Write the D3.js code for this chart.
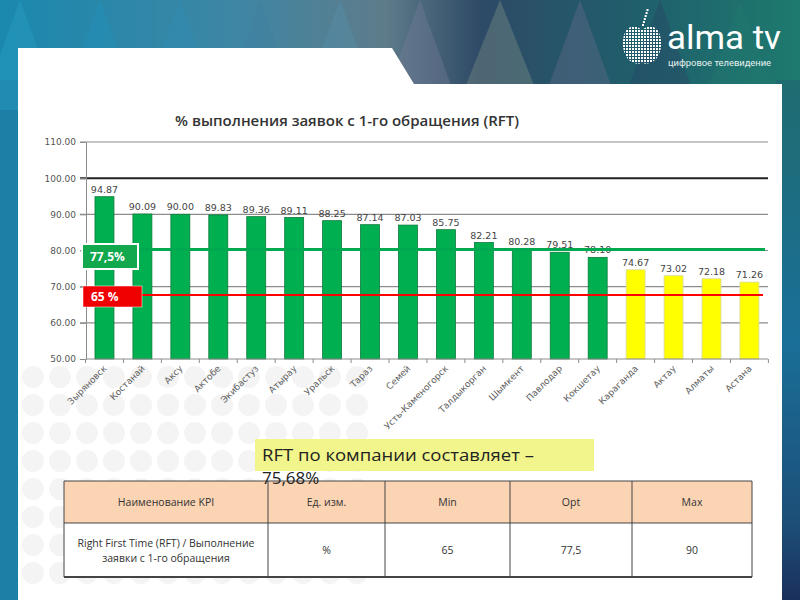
<!DOCTYPE html>
<html>
<head>
<meta charset="utf-8">
<script src="https://cdn.jsdelivr.net/npm/d3@7.9.0/dist/d3.min.js"></script>
<style>
  body { margin: 0; background: #fff; }
  svg { display: block; }
</style>
</head>
<body>
<svg id="chart" width="800" height="600"></svg>
<script>
// data
const cities = ['Зыряновск', 'Костанай', 'Аксу', 'Актобе', 'Экибастуз', 'Атырау', 'Уральск', 'Тараз',
  'Семей', 'Усть-Каменогорск', 'Талдыкорган', 'Шымкент', 'Павлодар', 'Кокшетау', 'Караганда',
  'Актау', 'Алматы', 'Астана'];
const rft = [94.87, 90.09, 90.00, 89.83, 89.36, 89.11, 88.25, 87.14, 87.03, 85.75, 82.21, 80.28,
  79.51, 78.10, 74.67, 73.02, 72.18, 71.26];
const yTicks = [50, 60, 70, 80, 90, 100, 110];
// reference lines (drawn positions) and their badges
const refValues = [80.3, 67.7];
const refLabels = ['77,5%', '65 %'];
const refColors = ['#00a84f', '#ff0000'];
const tableHead = ['Наименование KPI', 'Ед. изм.', 'Min', 'Opt', 'Max'];
const tableRow = [['Right First Time (RFT) / Выполнение', 'заявки с 1-го обращения'], ['%'], ['65'], ['77,5'], ['90']];
const companyText = ['RFT по компании составляет –', '75,68%'];

const svg = d3.select('#chart');
const defs = svg.append('defs');

// background
const bg = defs.append('linearGradient').attr('id', 'bg');
[[0, '#1a88ae'], [0.3, '#3f86a4'], [0.48, '#5e7c8a'], [0.6, '#2e4a66'], [0.8, '#1f5f6c'], [1, '#1e7a6e']]
  .forEach(([o, c]) => bg.append('stop').attr('offset', o).attr('stop-color', c));
svg.append('rect').attr('width', 800).attr('height', 600).attr('fill', 'url(#bg)');
const side = defs.append('linearGradient').attr('id', 'side').attr('x1', 0).attr('x2', 0).attr('y1', 0).attr('y2', 1);
[[0, '#1f6c70'], [0.5, '#1a6f98'], [0.85, '#1c4f78'], [1, '#1b2f5c']]
  .forEach(([o, c]) => side.append('stop').attr('offset', o).attr('stop-color', c));
svg.append('rect').attr('x', 776).attr('y', 80).attr('width', 24).attr('height', 520).attr('fill', 'url(#side)');
svg.append('rect').attr('x', 0).attr('y', 80).attr('width', 24).attr('height', 520).attr('fill', '#1d7fa6');

const tris = [[20, 110, '#2aa2c8'], [100, 110, '#1f93bd'], [180, 110, '#2f8db4'], [260, 110, '#3f7ea0'],
  [340, 110, '#5591b0'], [420, 110, '#7a7d9c'], [500, 100, '#8a9a8c'], [580, 110, '#6d6f8f'],
  [660, 110, '#2b3f62'], [740, 110, '#237a70']];
tris.forEach(([x0, h, c]) => {
  svg.append('path')
    .attr('d', `M${x0 - 40},${h} L${x0},0 L${x0 + 40},${h} Z`)
    .attr('fill', c).attr('opacity', 0.35);
});

// white panel
svg.append('path')
  .attr('d', 'M18,48 L392,48 L414,84 L782,84 L782,600 L18,600 Z')
  .attr('fill', '#fff');

// decorative dots
const dotRows = d3.range(377, 600, 28);
const dotCols = d3.range(33, 380, 27);
svg.append('g').selectAll('circle')
  .data(d3.cross(dotCols, dotRows))
  .join('circle')
  .attr('cx', d => d[0]).attr('cy', d => d[1]).attr('r', 11)
  .attr('fill', '#f4f4f4');

// logo
const logo = svg.append('g');
const apple = defs.append('clipPath').attr('id', 'apple');
apple.append('path').attr('d', 'M642,30 C628,20 622,34 623,46 C624,58 632,66 642,63 C652,66 660,58 661,46 C662,34 656,20 642,30 Z');
const dots = d3.cross(d3.range(623, 662, 3), d3.range(24, 66, 3));
logo.append('g').attr('clip-path', 'url(#apple)').selectAll('rect')
  .data(dots).join('rect')
  .attr('x', d => d[0]).attr('y', d => d[1]).attr('width', 2).attr('height', 2).attr('fill', '#fff');
logo.append('g').selectAll('rect')
  .data(d3.range(0, 6)).join('rect')
  .attr('x', d => 642 + d * 0.9).attr('y', d => 24 - d * 3).attr('width', 2).attr('height', 2).attr('fill', '#fff');
logo.append('text').attr('x', 667).attr('y', 49)
  .attr('font-family', 'Roboto').attr('font-weight', 400).attr('font-size', 33).attr('fill', '#fff')
  .attr('textLength', 114).attr('lengthAdjust', 'spacingAndGlyphs')
  .text('alma tv');
logo.append('text').attr('x', 668).attr('y', 66)
  .attr('font-family', 'Roboto').attr('font-size', 9.4).attr('fill', '#e8f2f2')
  .text('цифровое телевидение');

// chart
const x = d3.scaleBand().domain(cities).range([85.5, 768.4]).paddingInner(0.5).paddingOuter(0.25);
const y = d3.scaleLinear().domain([50, 110]).range([359, 142]);
const chart = svg.append('g');

chart.append('text')
  .attr('x', 347).attr('y', 126).attr('text-anchor', 'middle')
  .attr('font-family', 'Open Sans').attr('font-weight', 600).attr('font-size', 15).attr('fill', '#333')
  .text('% выполнения заявок с 1-го обращения (RFT)');

chart.append('g').selectAll('line')
  .data(yTicks.filter(t => t > 50))
  .join('line')
  .attr('x1', 80).attr('x2', 768)
  .attr('y1', d => y(d)).attr('y2', d => y(d))
  .attr('stroke', d => d === 100 ? '#222' : '#8c8c8c')
  .attr('stroke-width', d => d === 100 ? 2 : 1.2);

const yAxis = chart.append('g').attr('transform', 'translate(86,0)')
  .call(d3.axisLeft(y).tickValues(yTicks).tickFormat(d3.format('.2f')).tickSize(6).tickPadding(4));
yAxis.select('.domain').attr('stroke', '#8c8c8c');
yAxis.selectAll('line').attr('stroke', '#8c8c8c');
yAxis.selectAll('text').attr('font-family', 'DejaVu Sans').attr('font-size', 9).attr('fill', '#555');

chart.append('g').selectAll('rect')
  .data(cities)
  .join('rect')
  .attr('x', d => x(d)).attr('width', x.bandwidth())
  .attr('y', (d, i) => y(rft[i])).attr('height', (d, i) => y(50) - y(rft[i]))
  .attr('fill', (d, i) => rft[i] >= 77.5 ? '#00b050' : '#ffff00')
  .attr('stroke', (d, i) => rft[i] >= 77.5 ? '#0b7a3a' : '#d8d8a0')
  .attr('stroke-width', 0.8);

chart.append('g').selectAll('text')
  .data(cities)
  .join('text')
  .attr('x', d => x(d) + x.bandwidth() / 2).attr('y', (d, i) => y(rft[i]) - 4)
  .attr('text-anchor', 'middle')
  .attr('font-family', 'DejaVu Sans').attr('font-size', 9.5).attr('fill', '#444')
  .text((d, i) => rft[i].toFixed(2));

// bottom axis
chart.append('line').attr('x1', 86).attr('x2', 768).attr('y1', y(50)).attr('y2', y(50)).attr('stroke', '#8c8c8c');
chart.append('g').selectAll('line')
  .data(d3.range(cities.length + 1))
  .join('line')
  .attr('x1', i => 85.5 + i * x.step()).attr('x2', i => 85.5 + i * x.step())
  .attr('y1', y(50)).attr('y2', y(50) + 4)
  .attr('stroke', '#8c8c8c');
chart.append('g').selectAll('text')
  .data(cities)
  .join('text')
  .attr('transform', d => `translate(${x(d) + x.bandwidth() / 2 + 3},${y(50) + 10}) rotate(-45)`)
  .attr('text-anchor', 'end')
  .attr('font-family', 'DejaVu Sans').attr('font-size', 9).attr('fill', '#606060')
  .text(d => d);

// reference lines and badges
chart.append('line').attr('x1', 86).attr('x2', 765).attr('y1', y(refValues[0])).attr('y2', y(refValues[0]))
  .attr('stroke', refColors[0]).attr('stroke-width', 3);
chart.append('line').attr('x1', 140).attr('x2', 763).attr('y1', y(refValues[1])).attr('y2', y(refValues[1]))
  .attr('stroke', refColors[1]).attr('stroke-width', 2);

const badges = [[82, 244, 56, 25], [83, 286, 59, 21]];
badges.forEach(([bx, by, bw, bh], i) => {
  chart.append('rect').attr('x', bx).attr('y', by).attr('width', bw).attr('height', bh)
    .attr('fill', i === 1 ? '#f00000' : '#12a84e')
    .attr('stroke', '#fff').attr('stroke-width', i === 0 ? 2 : 0.5);
  chart.append('text').attr('x', bx + 8).attr('y', by + bh / 2 + 4.5)
    .attr('font-family', 'Open Sans').attr('font-weight', 700).attr('font-size', 12).attr('fill', '#fff')
    .text(refLabels[i]);
});

// table
const colX = [64, 268, 385, 510, 632, 752];
const rowY = [481, 523, 577];
const table = svg.append('g');
table.append('rect').attr('x', colX[0]).attr('y', rowY[0]).attr('width', colX[5] - colX[0]).attr('height', rowY[1] - rowY[0])
  .attr('fill', '#fbd4b4');
table.append('rect').attr('x', colX[0]).attr('y', rowY[1]).attr('width', colX[5] - colX[0]).attr('height', rowY[2] - rowY[1])
  .attr('fill', '#fff');
rowY.forEach((ry, i) => {
  table.append('line').attr('x1', colX[0]).attr('x2', colX[5]).attr('y1', ry).attr('y2', ry)
    .attr('stroke', '#444').attr('stroke-width', i === 2 ? 2 : 1);
});
colX.forEach(cx => {
  table.append('line').attr('x1', cx).attr('x2', cx).attr('y1', rowY[0]).attr('y2', rowY[2])
    .attr('stroke', '#444').attr('stroke-width', 1);
});
tableHead.forEach((h, i) => {
  table.append('text').attr('x', (colX[i] + colX[i + 1]) / 2).attr('y', (rowY[0] + rowY[1]) / 2 + 4)
    .attr('text-anchor', 'middle').attr('font-family', 'Open Sans').attr('font-size', 10.5).attr('fill', '#333')
    .text(h);
});
tableRow.forEach((lines, i) => {
  const mid = (rowY[1] + rowY[2]) / 2;
  lines.forEach((l, j) => {
    table.append('text').attr('x', (colX[i] + colX[i + 1]) / 2)
      .attr('y', mid + 4 + (j - (lines.length - 1) / 2) * 15)
      .attr('text-anchor', 'middle').attr('font-family', 'Open Sans').attr('font-size', 10.5).attr('fill', '#333')
      .text(l);
  });
});

// company RFT note (its second line spills over the table, as in the slide)
svg.append('rect').attr('x', 255).attr('y', 439).attr('width', 339).attr('height', 32).attr('fill', '#f1f58c');
companyText.forEach((t, i) => {
  const txt = svg.append('text').attr('x', 262).attr('y', 461 + i * 23)
    .attr('font-family', 'Open Sans').attr('font-size', 17).attr('fill', '#222')
    .text(t);
  if (i === 0) txt.attr('textLength', 272).attr('lengthAdjust', 'spacingAndGlyphs');
});
</script>
</body>
</html>
